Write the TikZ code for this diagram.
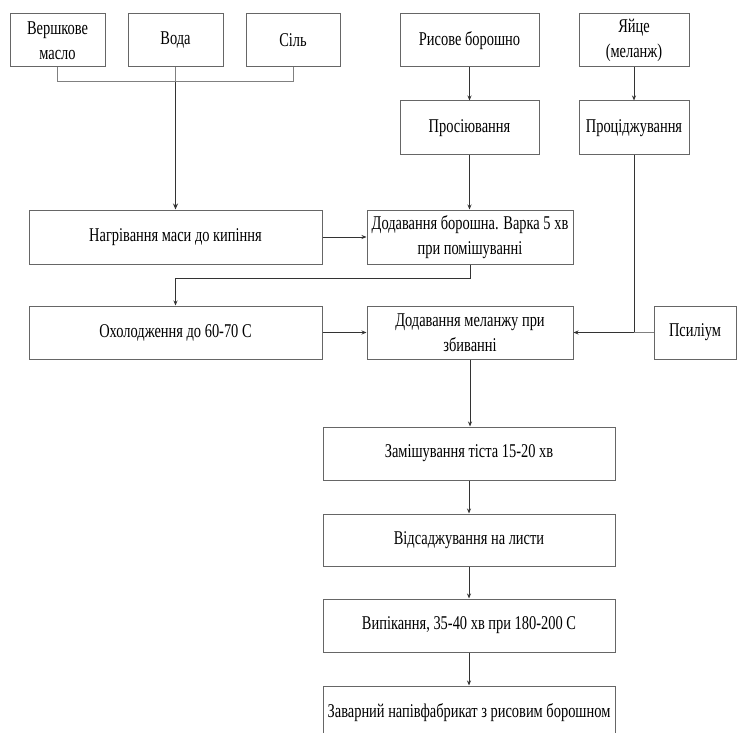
\documentclass[tikz,border=0pt]{standalone}
\usepackage{fontspec}
\setmainfont{Liberation Serif}[FakeStretch=0.74]
\usetikzlibrary{arrows.meta}
\begin{document}
\begin{tikzpicture}[x=1pt,y=-1pt,
  box/.style={draw=black!60, line width=1pt, fill=white, inner sep=1pt, align=center,
    font=\fontsize{19.5}{25}\selectfont, text=black},
  conn/.style={draw=black!80, line width=1pt},
  thin/.style={draw=black!50, line width=1pt},
  arr/.style={conn, -{Stealth[length=5pt,width=4pt]}}]
\clip (0,0) rectangle (739,733);
\fill[white] (0,0) rectangle (739,733);
% top row
\node[box, minimum width=95pt, minimum height=53pt] (vm) at (57.5,40.5) {Вершкове\\масло};
\node[box, minimum width=95pt, minimum height=53pt] (voda) at (175.5,40.5) {Вода};
\node[box, minimum width=94pt, minimum height=53pt] (sil) at (293,40.5) {Сіль};
\node[box, minimum width=139pt, minimum height=53pt] (ris) at (469.5,40.5) {Рисове борошно};
\node[box, minimum width=110pt, minimum height=53pt] (egg) at (634,40.5) {Яйце\\(меланж)};
% second row
\node[box, minimum width=139pt, minimum height=54pt] (pros) at (469.5,128) {Просіювання};
\node[box, minimum width=110pt, minimum height=54pt] (proc) at (634,128) {Проціджування};
% third row
\node[box, minimum width=293pt, minimum height=54pt] (nagr) at (175.5,237) {Нагрівання маси до кипіння};
\node[box, minimum width=206pt, minimum height=54pt] (dodb) at (470,237) {Додавання борошна. Варка 5 хв\\при помішуванні};
% fourth row
\node[box, minimum width=293pt, minimum height=53pt] (oxol) at (175.5,332.5) {Охолодження до 60-70 С};
\node[box, minimum width=206pt, minimum height=53pt] (dodm) at (470,332.5) {Додавання меланжу при\\збиванні};
\node[box, minimum width=82pt, minimum height=53pt] (psil) at (695,332.5) {Псиліум};
% lower column
\node[box, minimum width=292pt, minimum height=53pt] (zam) at (469,453.5) {Замішування тіста 15-20 хв};
\node[box, minimum width=292pt, minimum height=52pt] (vids) at (469,540) {Відсаджування на листи};
\node[box, minimum width=292pt, minimum height=53pt] (vyp) at (469,625.5) {Випікання, 35-40 хв при 180-200 С};
\node[box, minimum width=292pt, minimum height=54pt] (zav) at (469,713) {Заварний напівфабрикат з рисовим борошном};
% junctions
\coordinate (jl) at (vm.south |- 0,82);
\coordinate (jm) at (voda.south |- 0,82);
\coordinate (jr) at (sil.south |- 0,82);
\coordinate (jb) at (dodb.south |- 0,278);
\coordinate (jo) at (oxol.north |- 0,278);
\coordinate (je) at (proc.south |- dodm.east);
% bracket
\draw[thin] (vm.south) -- (jl) -- (jr) -- (sil.south);
\draw[thin] (voda.south) -- (jm);
\draw[arr, line width=1.7pt, -{Stealth[length=6pt,width=5pt]}] (jm) -- (nagr.north);
% flour and egg
\draw[arr] (ris) -- (pros);
\draw[arr] (pros.south) -- (pros.south |- dodb.north);
\draw[arr] (egg) -- (proc);
\draw[conn] (proc.south) -- (je);
\draw[arr] (je) -- (dodm.east);
\draw[thin] (psil.west) -- (je);
% horizontal flows
\draw[arr] (nagr.east) -- (nagr.east -| dodb.west);
\draw[arr] (dodb.south) -- (jb) -- (jo) -- (oxol.north);
\draw[arr] (oxol.east) -- (oxol.east -| dodm.west);
% vertical flow
\draw[arr] (dodm.south) -- (dodm.south |- zam.north);
\draw[arr] (zam) -- (vids);
\draw[arr] (vids) -- (vyp);
\draw[arr] (vyp) -- (zav);
\end{tikzpicture}
\end{document}
